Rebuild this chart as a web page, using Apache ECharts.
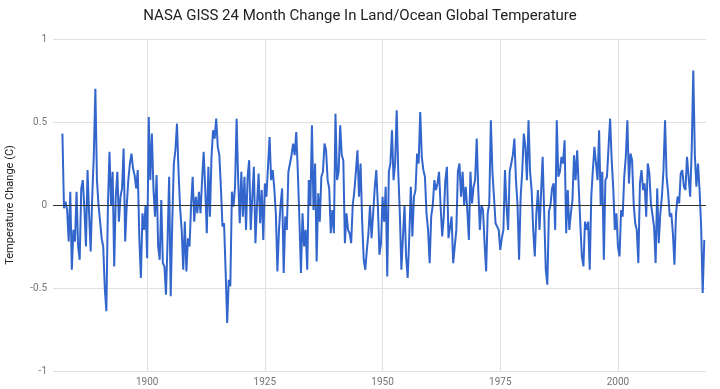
<!DOCTYPE html>
<html><head><meta charset="utf-8">
<script src="https://cdn.jsdelivr.net/npm/echarts@6/dist/echarts.min.js"></script>
<style>html,body{margin:0;padding:0;background:#fff}#c{width:720px;height:389px}</style>
</head><body><div id="c"></div>
<script>
// Sampling: one value every 4 months, starting Jan 1882
const START_YEAR = 1882;
const STEP = 1 / 3;

const seg1882 = [0.43,-0.02,0.02, -0.03,-0.22,0.08, -0.39,-0.15,-0.22, 0.08,-0.25,-0.33, 0.1,0.15,-0.02,
  -0.25,0.21,-0.05, -0.28,0.05,0.3, 0.70,0.15,0.0, -0.1,-0.2,-0.25, -0.5,-0.64,0.0, 0.32,0.0,0.2,
  -0.37,0.05,0.2, -0.1,0.05,0.1, 0.34,-0.22,0.0, 0.15,0.25,0.31, 0.22,0.18,0.10, 0.21,-0.2];
const seg1898 = [-0.44, -0.05,-0.15,0.0, -0.32,0.53,0.15, 0.43,0.1,-0.07, 0.18,-0.25,-0.33, 0.03,-0.35,-0.37,
  -0.54,-0.22,0.17, -0.55,-0.1,0.25, 0.33,0.49,0.2, -0.02,-0.15,-0.39, -0.1,-0.4,-0.2, -0.25,0.0,0.17,
  -0.1,0.05,-0.05, 0.08,-0.05,0.15, 0.32,0.1,-0.17, 0.23,-0.07,0.29, 0.45,0.4,0.52, 0.35];
const seg1915 = [0.3,0.1, -0.13,-0.11,-0.4, -0.71,-0.45,-0.49, 0.08,-0.01,0.11, 0.52,0.15,-0.11, 0.2,-0.07,0.17,
  -0.15,0.17,0.27, -0.15,0.05,0.23, -0.23,0.0,0.19, -0.11,0.09,-0.21, 0.13,0.05,0.23, 0.41,0.15,0.21,
  0.1,-0.05,-0.4, -0.15,0.0,0.1, -0.41,-0.07,-0.15, 0.2,0.2,0.3, 0.37,0.3,0.44, 0.2,-0.08];
const seg1932 = [-0.41, -0.05,-0.25,-0.15, -0.39,0.15,0.0, 0.48,-0.03,0.25, -0.34,0.07,-0.1, 0.17,0.2,0.37,
  0.33,0.15,0.1, -0.17,-0.03,-0.17, 0.55,0.15,0.2, 0.48,0.3,0.27, -0.23,-0.05,-0.15, -0.17,-0.23,0.0,
  0.08,0.2,0.33, 0.05,0.25,-0.1, -0.33,-0.39,-0.27, -0.17,0.0,-0.2, -0.2,0.1,0.21, 0.0,-0.3];
const seg1949 = [-0.23, 0.05,-0.1,0.11, -0.43,0.2,0.25, 0.45,0.15,0.25, 0.57,0.2,-0.05, -0.39,-0.19,0.0,
  -0.31,-0.44,-0.2, 0.11,-0.19,0.05, 0.09,0.31,0.25, 0.56,0.29,0.21, 0.17,-0.05,-0.15, -0.35,-0.07,0.0,
  0.15,0.09,0.13, 0.2,-0.01,-0.19, -0.07,0.15,0.23, -0.2,-0.19,-0.07, -0.35,-0.25,-0.15, 0.2,0.25];
const seg1966 = [0.05, 0.2,0.0,0.11, -0.03,-0.21,0.2, 0.01,0.11,0.15, 0.4,0.09,-0.15, 0.0,-0.03,-0.23,
  -0.4,-0.05,0.01, 0.51,0.2,0.05, -0.11,-0.11,-0.15, -0.27,-0.2,-0.15, 0.21,-0.01,-0.15, 0.2,0.25,0.3,
  0.4,0.15,0.0, -0.33,0.05,0.2, 0.43,0.35,0.15, 0.51,0.2,0.09, -0.15,-0.31,-0.05, 0.09,-0.15];
const seg1983 = [0.07, 0.29,-0.05,-0.39, -0.48,-0.04,0.0, 0.1,0.13,-0.15, 0.51,0.17,0.2, 0.29,0.25,0.39,
  -0.17,0.09,-0.15, -0.05,0.03,0.3, 0.15,0.33,0.11, -0.11,-0.31,-0.37, -0.1,-0.15,-0.1, -0.39,0.05,0.21,
  0.35,0.35,0.15, 0.45,0.0,0.2, -0.33,0.15,0.17, 0.35,0.52,0.27, 0.1,-0.15,-0.05, -0.25,-0.31];
const seg2000 = [-0.03, -0.07,0.17,0.29, 0.51,0.13,0.31, 0.27,0.01,-0.11, -0.15,-0.35,0.13, 0.21,0.09,0.13,
  -0.07,0.25,0.19, 0.01,0.0,-0.13, -0.35,0.1,-0.23, -0.05,0.05,0.21, 0.51,0.17,0.07, -0.07,-0.05,-0.17,
  -0.36,-0.05,0.05, 0.01,0.19,0.21, 0.11,0.09,0.29, 0.29,0.05,0.33, 0.81,0.3,0.11, 0.25,0.09,-0.13, -0.53,-0.21];

const yearTicks = [1900, 1925, 1950, 1975, 2000];
const titleText = 'NASA GISS 24 Month Change In Land/Ocean Global Temperature';
const yName = 'Temperature Change (C)';

const values = [].concat(seg1882, seg1898, seg1915, seg1932, seg1949, seg1966, seg1983, seg2000);
const points = values.map((v, i) => [START_YEAR + i * STEP, v]);

const chart = echarts.init(document.getElementById('c'), null, {renderer: 'canvas'});
chart.setOption({
  animation: false,
  backgroundColor: '#fff',
  title: {
    text: titleText, left: 'center', top: 4,
    textStyle: {fontFamily: 'Roboto', fontSize: 15, fontWeight: 'normal', color: '#222'}
  },
  grid: {left: 53, right: 14, top: 39, bottom: 18, containLabel: false, outerBoundsMode: 'none'},
  xAxis: {
    type: 'value', min: 1880, max: 2018.7,
    axisLine: {show: false},
    axisTick: {show: false, customValues: yearTicks},
    axisLabel: {customValues: yearTicks, formatter: v => String(v), color: '#757575', fontSize: 10, fontFamily: 'Roboto', margin: 6},
    splitLine: {show: true, lineStyle: {color: '#e0e0e0', width: 1}}
  },
  yAxis: {
    type: 'value', min: -1, max: 1, interval: 0.5,
    name: yName, nameLocation: 'middle', nameGap: 37,
    nameTextStyle: {fontFamily: 'Roboto', fontSize: 11, color: '#222'},
    axisLine: {show: false}, axisTick: {show: false},
    axisLabel: {color: '#757575', fontSize: 10, fontFamily: 'Roboto', margin: 6},
    splitLine: {show: true, lineStyle: {color: '#e0e0e0', width: 1}}
  },
  series: [{
    type: 'line', data: points, showSymbol: false, symbol: 'none',
    lineStyle: {color: '#3366cc', width: 2}, itemStyle: {color: '#3366cc'},
    markLine: {
      silent: true, symbol: 'none', label: {show: false},
      lineStyle: {color: '#333', width: 1, type: 'solid'},
      data: [{yAxis: 0}]
    }
  }]
});
</script>
</body></html>
